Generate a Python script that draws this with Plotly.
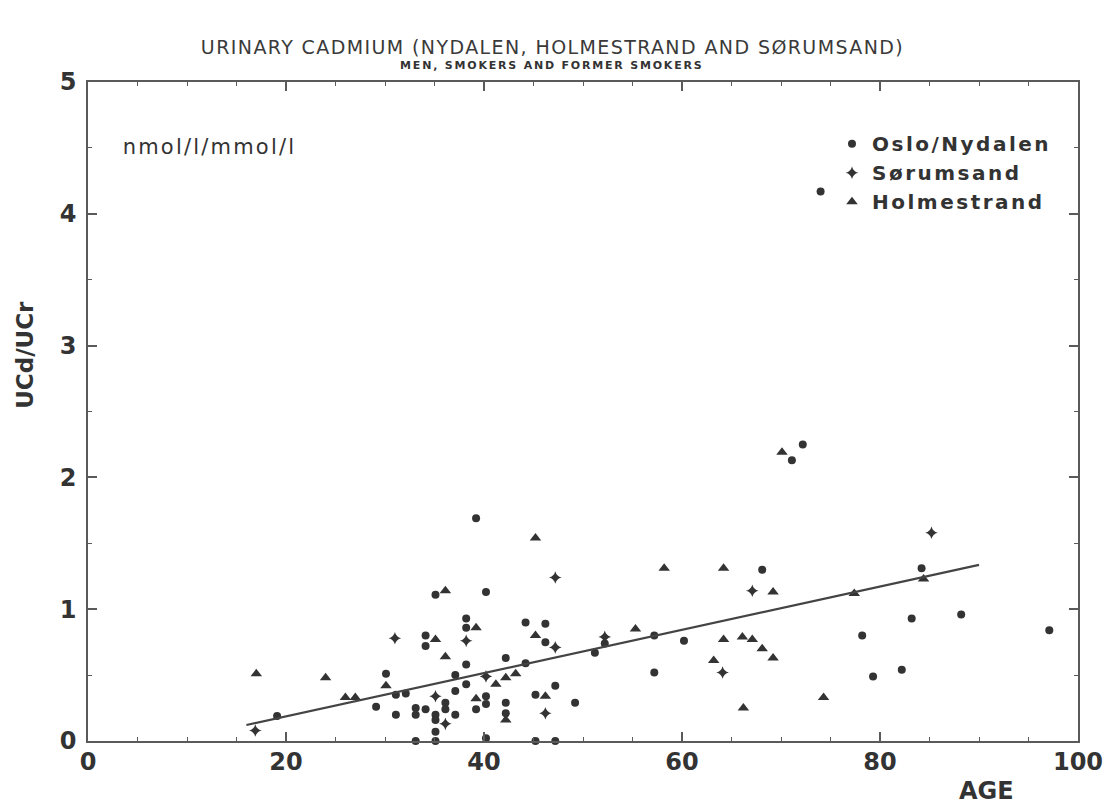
import plotly.graph_objects as go

# Urinary cadmium / creatinine ratio against age, three study areas
oslo_age = [39.2, 35.1, 40.2, 38.2, 38.2, 44.2, 46.2, 46.2, 34.1, 34.1,
            38.2, 42.2, 44.2, 30.1, 31.1, 32.1, 37.1, 38.2, 37.1, 29.1,
            31.1, 33.1, 33.1, 34.1, 35.1, 36.1, 36.1, 37.1, 35.1, 35.1,
            35.1, 33.1, 40.2, 40.2, 39.2, 42.2, 42.2, 40.2, 45.2, 47.2,
            45.2, 47.2, 49.2, 19.1, 71.1, 72.2, 68.1, 57.2, 60.2, 52.2,
            51.2, 57.2, 84.2, 83.2, 88.2, 78.2, 97.1, 79.3, 82.2, 74.0]
oslo_ucd = [1.69, 1.11, 1.13, 0.93, 0.86, 0.90, 0.89, 0.75, 0.80, 0.72,
            0.58, 0.63, 0.59, 0.51, 0.35, 0.36, 0.50, 0.43, 0.38, 0.26,
            0.20, 0.25, 0.20, 0.24, 0.20, 0.29, 0.24, 0.20, 0.16, 0.07,
            0.00, 0.00, 0.34, 0.28, 0.24, 0.29, 0.21, 0.02, 0.00, 0.00,
            0.35, 0.42, 0.29, 0.19, 2.13, 2.25, 1.30, 0.80, 0.76, 0.74,
            0.67, 0.52, 1.31, 0.93, 0.96, 0.80, 0.84, 0.49, 0.54, 4.17]

sorum_age = [47.2, 47.2, 31.0, 38.2, 40.2, 35.1, 36.1, 46.2, 16.9, 67.1,
             52.2, 64.1, 85.2]
sorum_ucd = [1.24, 0.71, 0.78, 0.76, 0.49, 0.34, 0.13, 0.21, 0.08, 1.14,
             0.79, 0.52, 1.58]

holme_age = [45.2, 36.1, 39.2, 45.2, 35.1, 36.1, 30.1, 26.0, 27.0, 41.2,
             42.2, 43.2, 39.2, 42.2, 46.2, 17.0, 24.0, 70.1, 58.2, 64.2,
             69.2, 55.3, 64.2, 66.1, 67.1, 68.1, 69.2, 63.2, 66.2, 74.3,
             84.4, 77.4]
holme_ucd = [1.54, 1.14, 0.86, 0.80, 0.77, 0.64, 0.42, 0.33, 0.33, 0.43,
             0.48, 0.51, 0.32, 0.16, 0.34, 0.51, 0.48, 2.19, 1.31, 1.31,
             1.13, 0.85, 0.77, 0.79, 0.77, 0.70, 0.63, 0.61, 0.25, 0.33,
             1.23, 1.12]

# Linear regression line over the observed age span
reg_age = [16, 90]
reg_slope = 0.01641
reg_intercept = -0.141
reg_ucd = [reg_intercept + reg_slope * a for a in reg_age]

x_ticks = [0, 20, 40, 60, 80, 100]
y_ticks = [0, 1, 2, 3, 4, 5]

INK = "#333333"
AXIS = "#5a5a5a"
FONT = "DejaVu Sans"

fig = go.Figure()
fig.add_trace(go.Scatter(
    x=oslo_age, y=oslo_ucd, mode="markers", name="Oslo/Nydalen",
    marker=dict(symbol="circle", size=8, color=INK), cliponaxis=False))
fig.add_trace(go.Scatter(
    x=sorum_age, y=sorum_ucd, mode="markers", name="Sørumsand",
    marker=dict(symbol="star-diamond", size=9, color=INK), cliponaxis=False))
fig.add_trace(go.Scatter(
    x=holme_age, y=holme_ucd, mode="markers", name="Holmestrand",
    marker=dict(symbol="triangle-up", size=10, color=INK), cliponaxis=False))
fig.add_trace(go.Scatter(
    x=reg_age, y=reg_ucd, mode="lines", showlegend=False,
    line=dict(color="#444444", width=2.2)))

axis_common = dict(
    showline=True, linecolor=AXIS, linewidth=1.5, mirror="ticks",
    ticks="inside", ticklen=9, tickwidth=1.5, tickcolor=AXIS,
    showgrid=False, zeroline=False, automargin=False,
    tickfont=dict(family=FONT, size=24, color=INK, weight="bold"),
)

fig.update_xaxes(range=[0, 100], tickvals=x_ticks, ticklabelstandoff=-2,
                 minor=dict(dtick=5, ticks="inside", ticklen=4, tickwidth=1.2,
                            tickcolor=AXIS, showgrid=False),
                 **axis_common)
fig.update_yaxes(range=[0, 5], tickvals=y_ticks, ticklabelstandoff=5,
                 minor=dict(dtick=0.5, ticks="inside", ticklen=4, tickwidth=1.2,
                            tickcolor=AXIS, showgrid=False),
                 **axis_common)

fig.update_layout(
    width=1105, height=810,
    margin=dict(l=88, r=27, t=82, b=69),
    paper_bgcolor="white", plot_bgcolor="white",
    title=dict(text="URINARY CADMIUM (NYDALEN, HOLMESTRAND AND SØRUMSAND)",
               x=0.5, xref="container", xanchor="center",
               y=1 - 47 / 810, yref="container", yanchor="middle",
               font=dict(family=FONT, size=19, color="#3a3a3a")),
    legend=dict(x=0.7515, y=0.936, xanchor="left", yanchor="top",
                bgcolor="rgba(0,0,0,0)", borderwidth=0,
                font=dict(family=FONT, size=20, color=INK, weight="bold"),
                itemsizing="trace"),
    annotations=[
        dict(text="MEN, SMOKERS AND FORMER SMOKERS", xref="paper", yref="paper",
             x=0.4687, y=1.0243, xanchor="center", yanchor="middle",
             showarrow=False,
             font=dict(family=FONT, size=11, color=INK, weight="bold")),
        dict(text="nmol/l/mmol/l", xref="x", yref="y", x=4.75, y=4.51,
             xanchor="left", yanchor="middle", showarrow=False,
             font=dict(family=FONT, size=21, color=INK)),
        dict(text="AGE", xref="x", yref="paper", x=90.8, y=-0.0759,
             xanchor="center", yanchor="middle", showarrow=False,
             font=dict(family=FONT, size=24, color=INK, weight="bold")),
        dict(text="UCd/UCr", xref="paper", yref="y", x=-0.0636, y=2.93,
             xanchor="center", yanchor="middle", textangle=-90,
             showarrow=False,
             font=dict(family=FONT, size=23, color=INK, weight="bold")),
    ],
)

# Wider letter tracking for the plotter-style lettering
tracking = """
var st = document.createElement('style');
st.textContent =
  '.gtitle{letter-spacing:1.4px}' +
  '.legend g{clip-path:none !important}' +
  '.legendtext{letter-spacing:2.5px}' +
  'g.annotation[data-index="0"] text{letter-spacing:1.8px}' +
  'g.annotation[data-index="1"] text{letter-spacing:2.2px}';
document.head.appendChild(st);
"""

fig.write_html("out.html", post_script=tracking)
